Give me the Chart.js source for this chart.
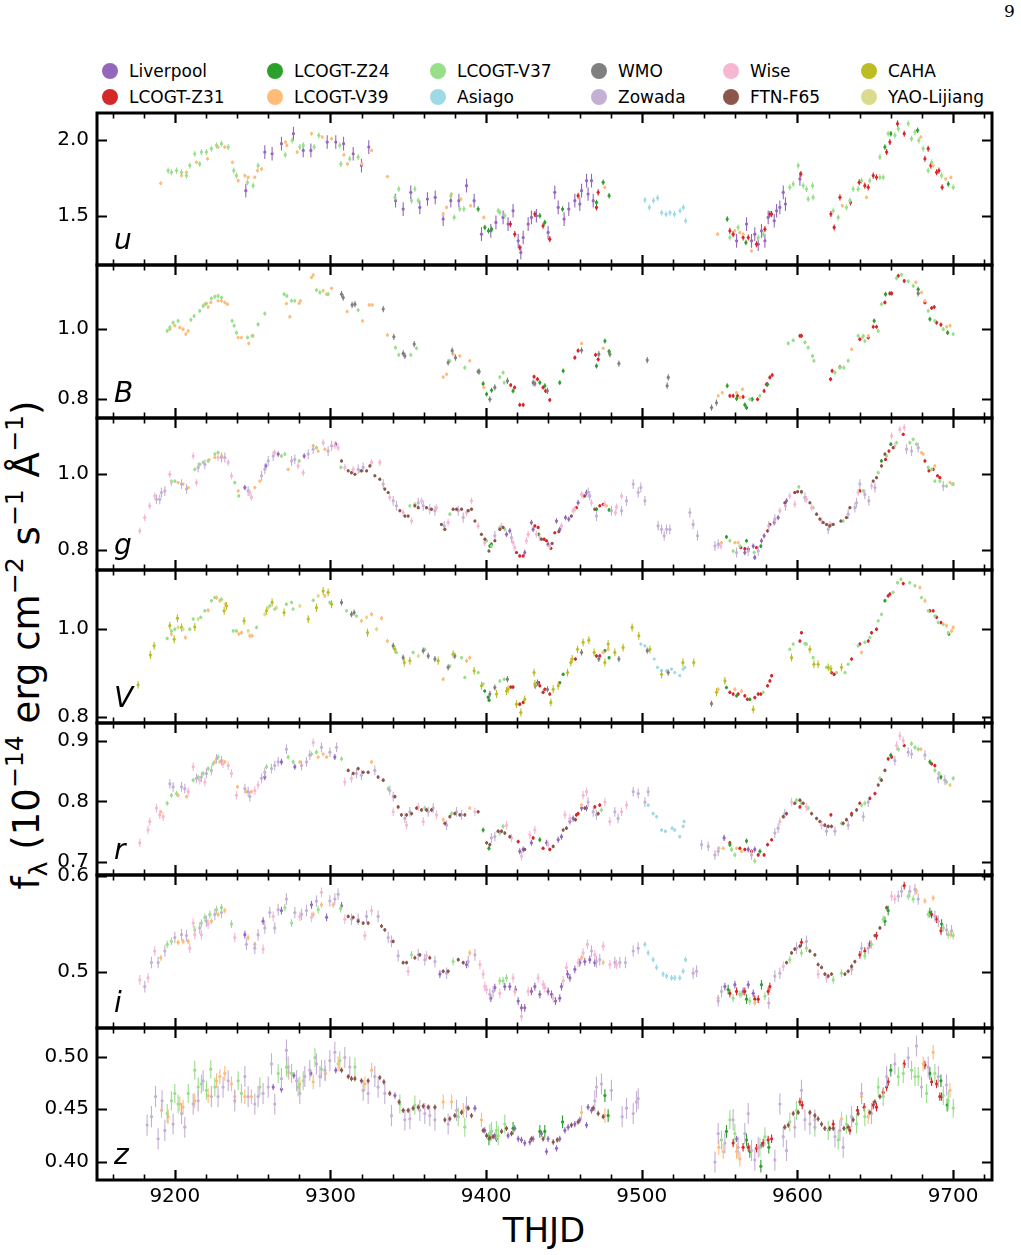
<!DOCTYPE html>
<html>
<head>
<meta charset="utf-8">
<script src="https://cdn.jsdelivr.net/npm/chart.js@4.4.0/dist/chart.umd.min.js"></script>
<style>
  body { margin: 0; background: #fff; width: 1021px; height: 1255px; position: relative; overflow: hidden; font-family: "DejaVu Sans", sans-serif; color: #000; }
  canvas.panel { position: absolute; left: 0; }
  .leg { position: absolute; font-size: 17px; line-height: 20px; white-space: nowrap; }
  .leg .dot { position: absolute; width: 16px; height: 16px; border-radius: 50%; left: -8px; top: 2px; }
  .leg .t { position: absolute; left: 19px; top: 0; }
  #ylab { position: absolute; left: 27px; top: 645px; transform: translate(-50%, -50%) rotate(-90deg); font-size: 37px; line-height: 42px; white-space: nowrap; }
  #ylab sup { font-size: 0.68em; vertical-align: 0.62em; line-height: 0; }
  #ylab sub { font-size: 0.68em; vertical-align: -0.3em; line-height: 0; }
  #xlab { position: absolute; left: 0; width: 1088px; text-align: center; top: 1210px; font-size: 34px; line-height: 40px; }
  #pageno { position: absolute; left: 1004px; top: 1px; font-family: "DejaVu Serif", serif; font-size: 17px; }
</style>
</head>
<body>
<div id="pageno">9</div>
<div id="ylab">f<sub>λ</sub> (10<sup>−14</sup> erg cm<sup>−2</sup> s<sup>−1</sup> Å<sup>−1</sup>)</div>
<div id="xlab">THJD</div>
<script>
// telescopes, in legend order (column by column)
const telescopes = ['Liverpool', 'LCOGT-Z31', 'LCOGT-Z24', 'LCOGT-V39', 'LCOGT-V37', 'Asiago',
                    'WMO', 'Zowada', 'Wise', 'FTN-F65', 'CAHA', 'YAO-Lijiang'];
const telColors = ['#9467bd', '#d62728', '#2ca02c', '#ffbb78', '#98df8a', '#9edae5',
                   '#7f7f7f', '#c5b0d5', '#f7b6d2', '#8c564b', '#bcbd22', '#dbdb8d'];

const xTicks = [9200, 9300, 9400, 9500, 9600, 9700];

// ---------------- u ----------------
const u_Liverpool = [[9245.6,1.665],[9257.8,1.919],[9262.5,1.908],[9268.5,1.974],[9276.2,2.040],[9282.5,1.930],[9287.4,1.930],[9297.9,1.985],[9303.4,1.985],[9308.4,1.974],[9314.6,1.908],[9319.9,1.830],[9324.6,1.952],[9341.8,1.599],[9346.7,1.544],[9351.6,1.654],[9357.4,1.555],[9362.3,1.610],[9367.3,1.621],[9372.4,1.478],[9377.3,1.599],[9382.5,1.599],[9387.4,1.698],[9392.3,1.599],[9397.0,1.379],[9403.0,1.401],[9406.3,1.456],[9410.9,1.489],[9414.1,1.445],[9417.3,1.533],[9420.6,1.335],[9422.3,1.258],[9423.8,1.357],[9427.0,1.445],[9429.1,1.489],[9432.3,1.500],[9439.8,1.390],[9444.1,1.654],[9446.3,1.555],[9450.1,1.478],[9453.1,1.544],[9457.0,1.599],[9460.2,1.577],[9461.3,1.665],[9464.5,1.731],[9465.5,1.643],[9467.7,1.731],[9468.8,1.599],[9560.9,1.335],[9567.3,1.445],[9570.5,1.335],[9572.6,1.379],[9574.8,1.313],[9576.9,1.401],[9579.1,1.335],[9581.2,1.489],[9585.1,1.467],[9586.6,1.533],[9588.7,1.555],[9590.9,1.654],[9592.3,1.577],[9601.6,1.742]];
const u_Z31 = [[9415.6,1.445],[9418.4,1.379],[9421.6,1.291],[9431.3,1.511],[9436.6,1.434],[9440.9,1.346],[9459.1,1.632],[9470.9,1.555],[9472.0,1.654],[9556.6,1.401],[9558.7,1.379],[9565.1,1.357],[9568.4,1.357],[9573.7,1.313],[9579.1,1.412],[9582.3,1.511],[9583.4,1.511],[9602.2,1.775],[9621.5,1.511],[9623.6,1.423],[9627.3,1.621],[9634.1,1.588],[9639.7,1.720],[9643.3,1.698],[9645.5,1.687],[9648.7,1.764],[9650.8,1.753],[9657.3,1.919],[9659.4,1.985],[9664.3,2.106],[9668.6,2.040],[9681.9,1.875],[9684.0,1.941],[9685.7,1.830],[9689.4,1.786],[9690.9,1.797],[9693.0,1.687]];
const u_Z24 = [[9394.9,1.544],[9399.2,1.423],[9401.5,1.401],[9403.5,1.412],[9434.5,1.500],[9437.7,1.456],[9449.1,1.544],[9470.9,1.588],[9475.2,1.720],[9479.0,1.632],[9554.9,1.478],[9566.9,1.324],[9656.2,1.952],[9660.0,2.040],[9677.2,2.062],[9696.9,1.709]];
const u_V39 = [[9191.0,1.714],[9204.3,1.764],[9207.5,1.786],[9213.9,1.852],[9221.0,1.875],[9227.8,1.952],[9232.1,1.952],[9237.0,1.852],[9240.7,1.731],[9245.0,1.764],[9247.1,1.753],[9251.4,1.753],[9253.1,1.797],[9255.7,1.808],[9271.1,1.985],[9272.0,1.963],[9278.6,1.919],[9287.8,2.040],[9294.7,2.018],[9300.7,2.007],[9308.6,1.901],[9310.9,1.841],[9320.2,1.841],[9326.4,1.930],[9336.6,1.758],[9372.4,1.511],[9374.6,1.555],[9377.8,1.643],[9383.8,1.610],[9390.0,1.566],[9398.5,1.489],[9476.3,1.687],[9548.7,1.379],[9559.8,1.401],[9563.0,1.390],[9565.1,1.379],[9570.5,1.269],[9628.8,1.566],[9644.4,1.621],[9679.3,2.018],[9687.2,1.830],[9695.2,1.742],[9698.6,1.753]];
const u_V37 = [[9195.7,1.797],[9197.8,1.786],[9201.1,1.797],[9204.3,1.786],[9207.5,1.764],[9209.6,1.830],[9212.8,1.908],[9216.0,1.841],[9217.1,1.919],[9220.3,1.919],[9223.5,1.941],[9226.8,1.963],[9230.0,1.974],[9234.3,1.952],[9237.9,1.797],[9239.6,1.764],[9246.7,1.720],[9250.3,1.698],[9253.5,1.830],[9270.9,1.901],[9275.4,1.996],[9280.3,1.952],[9282.5,1.963],[9289.5,1.952],[9292.5,2.029],[9306.0,1.963],[9306.7,1.841],[9312.4,1.875],[9317.8,1.886],[9341.4,1.621],[9343.9,1.676],[9352.1,1.599],[9354.2,1.676],[9356.4,1.599],[9377.3,1.632],[9379.5,1.489],[9383.1,1.544],[9385.7,1.544],[9407.7,1.533],[9408.8,1.522],[9412.0,1.500],[9556.6,1.357],[9561.9,1.423],[9574.8,1.357],[9578.0,1.379],[9595.1,1.687],[9597.3,1.709],[9600.5,1.830],[9603.7,1.698],[9605.8,1.676],[9606.9,1.610],[9609.7,1.698],[9610.1,1.621],[9623.0,1.533],[9626.2,1.489],[9631.5,1.555],[9633.7,1.599],[9635.8,1.676],[9639.0,1.676],[9641.2,1.731],[9646.5,1.731],[9653.0,1.753],[9655.1,1.753],[9653.0,1.886],[9658.3,2.040],[9662.6,2.029],[9664.8,2.073],[9671.2,2.106],[9673.3,2.007],[9675.5,2.051],[9678.0,1.996],[9680.8,1.941],[9684.0,1.797],[9686.2,1.852],[9692.6,1.764],[9700.1,1.687]];
const u_Asiago = [[9502.0,1.604],[9504.9,1.555],[9507.5,1.600],[9510.2,1.617],[9512.8,1.520],[9515.6,1.510],[9518.1,1.520],[9521.0,1.510],[9524.6,1.533],[9526.7,1.555],[9528.2,1.467]];

// ---------------- B ----------------
const B_V37 = [[9195.1,0.995],[9196.8,1.005],[9198.9,1.019],[9202.1,1.024],[9210.3,1.027],[9212.4,1.038],[9216.0,1.053],[9218.2,1.067],[9220.3,1.074],[9223.5,1.089],[9225.7,1.094],[9227.8,1.096],[9230.0,1.091],[9236.8,1.024],[9238.1,1.010],[9239.6,0.990],[9246.7,0.976],[9249.7,0.981],[9253.5,1.014],[9257.8,1.045],[9270.2,1.101],[9272.0,1.096],[9275.0,1.082],[9277.1,1.082],[9291.0,1.113],[9293.2,1.106],[9298.5,1.101],[9317.8,1.055],[9341.8,0.947],[9343.9,0.926],[9351.6,0.926],[9355.3,0.945],[9376.7,0.909],[9386.3,0.889],[9408.8,0.862],[9410.9,0.875],[9411.6,0.846],[9569.4,0.798],[9575.9,0.808],[9594.1,0.959],[9597.3,0.968],[9604.8,0.962],[9606.9,0.947],[9609.7,0.923],[9610.6,0.909],[9624.1,0.875],[9627.3,0.889],[9629.8,0.889],[9632.6,0.909],[9639.0,0.981],[9642.3,0.981],[9643.3,0.966],[9651.9,0.995],[9654.0,1.072],[9663.7,1.147],[9666.9,1.157],[9671.2,1.138],[9674.4,1.125],[9684.0,1.053],[9688.3,1.024],[9693.7,1.000],[9700.1,0.986]];
const B_V39 = [[9196.8,1.000],[9200.0,1.010],[9203.2,1.005],[9205.3,1.000],[9207.1,0.986],[9208.6,0.995],[9219.3,1.072],[9221.4,1.064],[9223.1,1.077],[9227.8,1.082],[9230.0,1.082],[9232.1,1.077],[9233.8,1.072],[9240.7,0.976],[9242.8,0.976],[9247.5,0.959],[9250.3,0.981],[9271.7,1.074],[9273.9,1.036],[9279.9,1.075],[9280.7,1.082],[9287.8,1.149],[9288.9,1.156],[9295.3,1.111],[9297.5,1.101],[9300.7,1.118],[9310.7,1.051],[9320.6,1.024],[9324.9,1.070],[9326.8,1.070],[9336.6,0.983],[9372.4,0.862],[9374.6,0.870],[9378.8,0.928],[9383.1,0.923],[9389.5,0.909],[9398.5,0.832],[9461.3,0.959],[9475.2,0.945],[9549.1,0.808],[9551.7,0.817],[9560.9,0.817],[9563.0,0.803],[9564.7,0.827],[9634.8,0.942],[9641.8,0.976],[9645.5,0.981],[9676.1,1.135],[9679.7,1.106],[9681.9,1.082],[9695.8,1.007],[9698.0,1.010]];
const B_WMO = [[9307.1,1.101],[9308.2,1.091],[9313.9,1.070],[9315.7,1.072],[9333.9,1.058],[9340.7,0.978],[9346.7,0.930],[9347.8,0.923],[9353.8,0.957],[9375.6,0.904],[9378.2,0.938],[9380.3,0.918],[9395.5,0.878],[9402.4,0.798],[9405.6,0.832],[9413.7,0.851],[9430.2,0.846],[9431.3,0.843],[9439.4,0.822],[9461.3,0.939],[9472.4,0.928],[9479.5,0.928],[9485.3,0.901],[9503.5,0.911],[9517.0,0.861],[9516.3,0.837],[9544.8,0.774],[9548.0,0.788],[9677.6,1.103]];
const B_Z24 = [[9394.9,0.878],[9398.1,0.843],[9400.3,0.813],[9403.5,0.824],[9417.3,0.822],[9434.5,0.846],[9437.7,0.837],[9447.3,0.846],[9449.5,0.880],[9470.9,0.894],[9476.3,0.966],[9479.0,0.936],[9554.9,0.837],[9560.9,0.800],[9566.2,0.782],[9567.3,0.774],[9570.9,0.798],[9580.8,0.841],[9649.3,1.024],[9656.6,1.101],[9677.6,1.115],[9685.1,1.029],[9696.5,0.990]];
const B_Z31 = [[9415.8,0.839],[9418.3,0.832],[9421.6,0.782],[9423.8,0.782],[9430.8,0.863],[9433.0,0.856],[9436.6,0.832],[9438.2,0.822],[9440.9,0.796],[9457.0,0.918],[9459.1,0.938],[9470.3,0.926],[9472.0,0.913],[9556.6,0.808],[9558.7,0.808],[9561.5,0.808],[9565.1,0.805],[9574.4,0.798],[9578.6,0.822],[9580.1,0.841],[9582.3,0.861],[9583.8,0.868],[9601.6,0.981],[9602.6,0.981],[9621.3,0.856],[9622.3,0.880],[9627.3,0.891],[9640.1,0.971],[9645.5,0.976],[9648.7,1.007],[9650.8,1.007],[9656.2,1.077],[9659.4,1.103],[9660.5,1.103],[9664.8,1.154],[9668.6,1.139],[9681.9,1.077],[9686.2,1.061],[9687.9,1.064],[9689.4,1.019],[9692.2,1.013]];

// ---------------- g ----------------
const g_Wise = [[9177.5,0.851],[9180.7,0.886],[9183.9,0.917],[9187.1,0.943],[9196.8,1.000],[9197.8,0.978],[9211.8,1.048],[9213.9,0.978],[9227.8,1.044],[9234.3,1.031],[9236.4,0.996],[9248.2,0.952],[9249.2,0.939],[9264.2,1.057],[9279.2,1.022],[9282.5,1.004],[9295.3,1.083],[9302.8,1.075],[9304.9,1.070],[9309.2,1.018],[9314.6,1.013],[9326.4,1.031],[9331.7,1.031],[9338.1,0.939],[9346.7,0.899],[9352.1,0.877],[9358.5,0.930],[9368.1,0.912],[9375.6,0.873],[9387.4,0.899],[9390.6,0.930],[9394.9,0.864],[9399.1,0.820],[9409.9,0.864],[9417.3,0.820],[9418.4,0.807],[9425.9,0.825],[9427.0,0.842],[9432.3,0.842],[9434.5,0.833],[9440.9,0.811],[9448.4,0.864],[9455.9,0.904],[9457.0,0.908],[9461.3,0.947],[9462.3,0.943],[9467.7,0.925],[9476.3,0.921],[9483.1,0.899],[9483.8,0.914],[9487.0,0.943],[9550.8,0.811],[9588.7,0.904],[9595.1,0.943],[9598.3,0.921],[9605.8,0.934],[9609.1,0.912],[9615.5,0.877],[9620.8,0.868],[9639.0,0.952],[9647.6,0.969],[9660.5,1.101],[9662.6,1.075],[9665.8,1.118],[9668.6,1.123]];
const g_Zowada = [[9188.2,0.934],[9190.3,0.934],[9191.4,0.952],[9193.6,0.956],[9204.3,0.974],[9207.5,0.961],[9215.0,1.018],[9219.3,1.026],[9230.0,1.044],[9232.1,1.044],[9247.1,0.956],[9255.7,0.996],[9257.8,1.013],[9260.0,1.035],[9263.2,1.048],[9275.0,1.035],[9277.1,1.039],[9285.7,1.053],[9288.9,1.066],[9298.5,1.061],[9300.7,1.075],[9317.8,1.013],[9321.0,1.018],[9333.9,0.974],[9340.3,0.930],[9342.4,0.917],[9356.4,0.925],[9359.6,0.917],[9363.8,0.908],[9367.1,0.904],[9373.1,0.864],[9382.1,0.904],[9385.3,0.886],[9405.6,0.838],[9416.3,0.833],[9465.5,0.952],[9466.6,0.943],[9470.9,0.890],[9480.5,0.904],[9487.0,0.904],[9490.2,0.930],[9494.5,0.974],[9497.7,0.952],[9499.4,0.965],[9502.0,0.930],[9510.5,0.864],[9512.7,0.855],[9514.4,0.838],[9515.9,0.855],[9518.0,0.855],[9530.9,0.899],[9533.0,0.868],[9535.8,0.838],[9547.0,0.811],[9549.1,0.816],[9560.9,0.794],[9568.4,0.798],[9574.8,0.798],[9581.6,0.864],[9585.5,0.882],[9592.3,0.917],[9604.8,0.939],[9619.8,0.855],[9632.6,0.895],[9636.9,0.912],[9638.0,0.925],[9640.1,0.974],[9643.3,0.947],[9645.9,0.930],[9649.8,0.965],[9670.1,1.066],[9673.3,1.061],[9677.6,1.070],[9693.7,0.969]];
const g_Liverpool = [[9245.0,0.965],[9258.5,1.022],[9266.4,1.053],[9283.1,1.048],[9303.4,1.079],[9413.1,0.842],[9415.2,0.851],[9424.8,0.794],[9429.1,0.873],[9430.2,0.855],[9439.8,0.816],[9445.2,0.877],[9447.3,0.855],[9451.0,0.886],[9453.1,0.882],[9459.1,0.925],[9464.5,0.952],[9566.2,0.794],[9571.6,0.811],[9572.6,0.781],[9576.9,0.825],[9578.6,0.838],[9585.1,0.873],[9587.6,0.886],[9593.0,0.930]];
const g_FTN = [[9307.1,1.035],[9311.4,1.009],[9313.5,1.004],[9315.7,1.000],[9319.9,1.009],[9323.2,1.009],[9325.3,1.022],[9328.5,0.996],[9331.7,0.987],[9334.9,0.961],[9337.1,0.952],[9344.6,0.904],[9347.8,0.890],[9349.9,0.890],[9354.2,0.917],[9356.4,0.912],[9361.7,0.912],[9364.9,0.908],[9371.3,0.868],[9373.5,0.855],[9378.8,0.908],[9381.0,0.908],[9384.2,0.908],[9388.5,0.904],[9390.6,0.908],[9392.8,0.877],[9397.0,0.842],[9399.2,0.829],[9401.8,0.798],[9405.6,0.825],[9408.8,0.855],[9410.9,0.860],[9435.6,0.829],[9442.4,0.818],[9446.7,0.849],[9454.8,0.890],[9463.4,0.943],[9469.8,0.908],[9591.9,0.925],[9600.1,0.954],[9602.6,0.954],[9608.0,0.925],[9612.3,0.895],[9614.4,0.882],[9616.6,0.873],[9618.7,0.868],[9620.8,0.864],[9623.0,0.868],[9627.9,0.877],[9631.5,0.886],[9633.7,0.912],[9648.7,0.982],[9650.8,0.991],[9654.0,1.022],[9656.2,1.053],[9661.5,1.070]];
const g_V37 = [[9197.8,0.982],[9200.0,0.982],[9212.8,1.013],[9216.0,1.026],[9218.2,1.031],[9221.4,1.035],[9225.7,1.053],[9227.8,1.057],[9238.5,0.978],[9241.1,0.943],[9268.5,1.048],[9270.7,1.053],[9279.9,1.035],[9291.0,1.070],[9306.7,1.018],[9318.9,1.009],[9351.0,0.917],[9354.2,0.921],[9376.7,0.895],[9400.3,0.825],[9403.5,0.811],[9408.8,0.860],[9412.0,0.855],[9556.6,0.825],[9558.7,0.798],[9563.0,0.811],[9572.2,0.794],[9600.9,0.967],[9602.6,0.952],[9610.1,0.912],[9621.9,0.868],[9629.4,0.877],[9642.3,0.956],[9651.9,1.004],[9657.3,1.048],[9663.7,1.083],[9672.2,1.083],[9674.4,1.092],[9676.5,1.079],[9684.0,1.018],[9686.2,1.013],[9688.3,0.982],[9691.5,0.982],[9695.8,0.969],[9700.1,0.974]];
const g_V39 = [[9202.1,0.978],[9205.3,0.974],[9208.6,0.965],[9222.0,1.038],[9225.7,1.044],[9230.0,1.048],[9240.7,0.956],[9251.4,0.965],[9254.6,0.982],[9272.8,1.013],[9288.9,1.075],[9292.1,1.061],[9296.4,1.066],[9477.3,0.917],[9549.5,0.816],[9551.2,0.820],[9559.8,0.820],[9561.9,0.820],[9679.7,1.057],[9680.8,1.053],[9688.3,1.022],[9698.0,0.978],[9699.5,0.974]];
const g_Z31 = [[9419.5,0.794],[9421.6,0.785],[9423.8,0.785],[9431.3,0.864],[9433.4,0.860],[9437.3,0.829],[9438.8,0.825],[9441.6,0.805],[9444.1,0.846],[9458.0,0.912],[9473.0,0.917],[9475.2,0.921],[9563.6,0.807],[9566.2,0.804],[9568.4,0.803],[9573.7,0.807],[9580.8,0.851],[9582.3,0.868],[9598.3,0.952],[9640.1,0.956],[9656.6,1.039],[9658.8,1.061],[9668.0,1.105],[9681.9,1.035],[9684.5,1.009],[9687.2,1.013],[9690.0,0.996],[9691.5,0.991]];
const g_Z24 = [[9402.4,0.811],[9403.4,0.816],[9433.8,0.842],[9470.9,0.908],[9479.0,0.906],[9554.4,0.835],[9567.3,0.825],[9576.5,0.811],[9654.0,1.035],[9660.0,1.079]];

// ---------------- V ----------------
const V_CAHA = [[9176.4,0.873],[9184.3,0.941],[9186.7,0.962],[9196.8,1.008],[9199.6,0.977],[9201.7,1.025],[9204.3,1.004],[9212.8,1.005],[9231.7,1.042],[9233.2,1.053],[9244.5,1.019],[9258.9,1.042],[9262.5,1.061],[9270.2,1.038],[9285.7,1.023],[9291.0,1.049],[9295.3,1.087],[9298.5,1.084],[9300.7,1.057],[9323.8,0.992],[9341.4,0.954],[9347.4,0.924],[9351.0,0.928],[9369.2,0.928],[9378.8,0.943],[9392.3,0.905],[9397.0,0.871],[9406.7,0.852],[9413.1,0.859],[9414.1,0.863],[9419.5,0.829],[9422.3,0.810],[9424.8,0.840],[9430.8,0.901],[9431.3,0.875],[9441.6,0.833],[9443.1,0.863],[9446.3,0.871],[9452.3,0.901],[9454.4,0.924],[9455.3,0.932],[9458.7,0.954],[9462.3,0.970],[9466.0,0.975],[9469.4,0.947],[9476.3,0.924],[9478.4,0.966],[9482.7,0.947],[9488.0,0.958],[9493.8,1.004],[9498.1,0.985],[9505.2,0.954],[9512.7,0.897],[9526.4,0.924],[9533.4,0.924],[9548.0,0.856],[9553.4,0.882],[9571.6,0.817],[9596.2,0.935],[9608.0,0.954],[9610.6,0.920],[9613.3,0.920],[9619.8,0.913],[9621.5,0.909],[9628.3,0.913]];
const V_YAO = [[9202.1,1.004],[9205.3,1.000],[9215.0,1.023],[9247.1,0.996],[9257.8,1.034],[9260.0,1.049],[9265.3,1.049],[9280.3,1.053],[9292.1,1.076],[9323.2,1.027],[9329.6,1.000],[9356.4,0.939]];
const V_V37 = [[9195.1,0.979],[9197.8,0.996],[9200.0,1.000],[9209.6,1.000],[9211.8,1.023],[9216.7,1.027],[9219.3,1.042],[9223.5,1.065],[9225.7,1.072],[9230.0,1.068],[9237.5,0.996],[9239.6,0.996],[9252.5,1.004],[9261.0,1.053],[9264.2,1.046],[9271.7,1.057],[9275.0,1.061],[9276.0,1.046],[9288.9,1.066],[9299.6,1.061],[9310.3,1.042],[9316.7,1.030],[9342.4,0.947],[9353.1,0.947],[9360.6,0.954],[9376.7,0.916],[9384.2,0.935],[9386.3,0.890],[9394.9,0.901],[9398.1,0.875],[9408.8,0.882],[9411.6,0.886],[9578.0,0.856],[9595.1,0.954],[9597.3,0.966],[9604.8,0.967],[9605.8,0.966],[9610.1,0.935],[9618.7,0.913],[9625.1,0.901],[9630.5,0.901],[9632.6,0.920],[9639.0,0.962],[9643.3,0.970],[9646.5,0.981],[9651.9,1.019],[9654.0,1.034],[9661.5,1.084],[9664.3,1.106],[9666.5,1.114],[9672.2,1.106],[9675.5,1.099],[9679.7,1.072],[9684.0,1.042],[9688.3,1.030],[9690.5,1.015],[9693.7,1.011],[9696.9,0.992]];
const V_V39 = [[9197.8,0.989],[9206.8,0.981],[9221.4,1.043],[9226.8,1.072],[9228.9,1.065],[9232.5,1.057],[9241.1,0.989],[9242.8,0.992],[9248.2,0.985],[9249.7,0.985],[9296.4,1.076],[9319.9,1.019],[9326.4,1.034],[9332.8,1.025],[9336.6,0.973],[9372.4,0.886],[9387.4,0.928],[9389.5,0.935],[9475.2,0.947],[9478.4,0.954],[9549.1,0.863],[9559.8,0.863],[9564.1,0.859],[9641.2,0.947],[9678.7,1.095],[9681.9,1.065],[9695.8,1.008],[9699.0,0.996],[9700.1,1.004]];
const V_WMO = [[9307.1,1.061],[9313.5,1.034],[9315.2,1.038],[9340.3,0.962],[9346.7,0.935],[9359.6,0.951],[9362.8,0.939],[9367.1,0.932],[9375.6,0.913],[9379.9,0.939],[9402.4,0.852],[9405.6,0.867],[9413.7,0.886],[9431.6,0.871],[9433.0,0.878],[9439.4,0.863],[9461.3,0.947],[9472.4,0.932],[9485.3,0.932],[9503.5,0.951],[9517.0,0.901],[9544.8,0.830]];
const V_Z24 = [[9401.9,0.838],[9399.1,0.859],[9401.3,0.845],[9447.3,0.878],[9449.5,0.897],[9476.3,0.951],[9479.0,0.935],[9554.4,0.867],[9560.9,0.848],[9569.4,0.840],[9656.2,1.065],[9697.3,0.989]];
const V_Z31 = [[9415.8,0.868],[9417.3,0.868],[9421.6,0.829],[9423.8,0.833],[9433.8,0.878],[9434.5,0.871],[9436.6,0.856],[9437.7,0.863],[9440.9,0.852],[9457.4,0.932],[9470.9,0.939],[9473.0,0.939],[9556.6,0.856],[9558.7,0.852],[9561.9,0.852],[9566.2,0.848],[9567.9,0.840],[9572.6,0.844],[9574.8,0.852],[9576.5,0.852],[9580.8,0.871],[9582.3,0.882],[9583.4,0.894],[9601.6,0.973],[9602.6,0.992],[9621.9,0.901],[9623.6,0.897],[9634.8,0.932],[9640.1,0.966],[9645.5,0.973],[9647.6,0.992],[9650.8,1.000],[9658.3,1.076],[9659.4,1.080],[9668.0,1.104],[9685.1,1.042],[9687.2,1.042],[9689.4,1.027],[9692.2,1.015]];
const V_Asiago = [[9499.4,0.966],[9502.0,0.962],[9504.1,0.951],[9508.0,0.932],[9510.1,0.913],[9512.7,0.906],[9515.9,0.905],[9519.1,0.909],[9521.2,0.901],[9524.4,0.894],[9526.6,0.909],[9527.7,0.913]];

// ---------------- r ----------------
const r_Wise = [[9177.5,0.732],[9182.8,0.753],[9183.9,0.767],[9188.2,0.789],[9190.3,0.778],[9192.5,0.775],[9208.6,0.816],[9211.8,0.857],[9216.0,0.835],[9219.3,0.832],[9231.0,0.862],[9234.3,0.859],[9236.4,0.846],[9239.6,0.810],[9251.4,0.818],[9253.5,0.827],[9288.9,0.897],[9309.2,0.832],[9313.5,0.838],[9340.3,0.783],[9348.9,0.761],[9356.4,0.791],[9359.6,0.767],[9368.1,0.778],[9392.8,0.783],[9413.1,0.761],[9416.3,0.740],[9422.7,0.710],[9428.1,0.745],[9431.3,0.753],[9439.8,0.729],[9450.6,0.778],[9453.8,0.772],[9462.3,0.810],[9464.5,0.816],[9476.3,0.799],[9479.5,0.767],[9487.0,0.783],[9490.2,0.794],[9588.7,0.767],[9596.2,0.799],[9605.8,0.791],[9615.5,0.761],[9663.7,0.892],[9665.8,0.908],[9668.0,0.900]];
const r_Zowada = [[9196.8,0.829],[9198.9,0.824],[9204.3,0.824],[9206.4,0.821],[9213.9,0.838],[9217.1,0.840],[9220.3,0.846],[9223.5,0.851],[9226.8,0.870],[9230.0,0.867],[9245.0,0.821],[9247.1,0.816],[9248.2,0.808],[9255.7,0.838],[9257.8,0.848],[9262.1,0.854],[9264.2,0.859],[9266.4,0.865],[9271.7,0.886],[9281.4,0.859],[9284.6,0.865],[9286.7,0.876],[9294.2,0.889],[9299.6,0.881],[9303.9,0.889],[9316.7,0.846],[9319.9,0.843],[9328.5,0.851],[9338.1,0.818],[9340.3,0.808],[9347.8,0.772],[9351.0,0.783],[9362.8,0.783],[9366.0,0.789],[9374.6,0.761],[9381.0,0.783],[9384.2,0.778],[9403.4,0.740],[9405.6,0.742],[9465.5,0.799],[9468.8,0.783],[9470.9,0.778],[9482.7,0.783],[9484.8,0.772],[9494.5,0.816],[9497.7,0.813],[9502.0,0.799],[9504.1,0.816],[9538.4,0.729],[9542.7,0.726],[9547.0,0.712],[9549.1,0.718],[9570.5,0.712],[9585.5,0.748],[9587.6,0.756],[9591.9,0.780],[9618.7,0.751],[9624.1,0.751],[9632.6,0.761],[9642.3,0.775],[9645.5,0.799],[9662.6,0.867],[9671.2,0.881],[9673.3,0.878],[9681.9,0.876],[9690.5,0.838],[9694.7,0.835]];
const r_Liverpool = [[9257.8,0.840],[9268.5,0.865],[9277.1,0.857],[9302.8,0.873],[9421.6,0.718],[9423.8,0.721],[9429.1,0.732],[9438.8,0.732],[9446.3,0.737],[9448.4,0.742],[9453.8,0.767],[9455.9,0.772],[9461.3,0.789],[9464.5,0.789],[9552.9,0.740],[9568.4,0.721],[9572.6,0.721]];
const r_FTN = [[9311.4,0.851],[9314.6,0.846],[9317.8,0.854],[9321.0,0.848],[9324.2,0.848],[9330.6,0.840],[9333.9,0.835],[9341.4,0.808],[9343.5,0.791],[9345.6,0.778],[9348.9,0.778],[9352.1,0.780],[9355.3,0.789],[9358.5,0.786],[9361.7,0.786],[9364.9,0.786],[9373.5,0.764],[9376.7,0.775],[9379.9,0.780],[9383.1,0.778],[9386.3,0.778],[9394.9,0.783],[9400.3,0.732],[9402.4,0.729],[9407.7,0.751],[9409.9,0.751],[9412.0,0.748],[9415.2,0.742],[9424.8,0.721],[9443.1,0.726],[9449.5,0.753],[9451.6,0.756],[9457.4,0.770],[9463.4,0.789],[9472.0,0.780],[9590.9,0.775],[9593.0,0.780],[9598.3,0.797],[9601.6,0.802],[9603.7,0.797],[9609.1,0.780],[9612.3,0.772],[9614.4,0.767],[9617.6,0.761],[9619.8,0.759],[9621.9,0.759],[9629.4,0.764],[9631.5,0.770],[9634.8,0.778],[9638.0,0.786],[9651.9,0.827],[9654.0,0.835],[9656.2,0.851]];
const r_V37 = [[9195.1,0.797],[9197.8,0.810],[9201.1,0.813],[9211.8,0.835],[9215.0,0.840],[9218.2,0.846],[9221.4,0.854],[9224.6,0.862],[9227.8,0.873],[9258.9,0.857],[9272.8,0.873],[9276.0,0.865],[9287.8,0.878],[9291.0,0.881],[9307.1,0.870],[9337.1,0.821],[9360.6,0.789],[9377.8,0.780],[9408.8,0.748],[9410.9,0.759],[9474.1,0.786],[9557.7,0.721],[9559.8,0.712],[9572.6,0.702],[9599.4,0.802],[9602.6,0.797],[9606.9,0.789],[9628.3,0.764],[9641.2,0.794],[9643.3,0.797],[9653.0,0.838],[9664.8,0.886],[9673.3,0.895],[9675.5,0.889],[9677.6,0.886],[9688.3,0.851],[9690.9,0.846],[9695.8,0.832],[9700.1,0.838]];
const r_V39 = [[9191.0,0.783],[9202.1,0.810],[9207.5,0.808],[9225.7,0.865],[9228.9,0.865],[9232.1,0.865],[9240.3,0.824],[9246.0,0.816],[9249.2,0.816],[9280.3,0.865],[9292.1,0.873],[9295.3,0.878],[9297.5,0.873],[9326.4,0.865],[9372.4,0.770],[9389.5,0.789],[9461.3,0.794],[9549.5,0.723],[9552.3,0.723],[9560.9,0.723],[9564.1,0.718],[9679.3,0.886],[9698.0,0.827]];
const r_Z31 = [[9420.6,0.734],[9430.2,0.740],[9436.6,0.723],[9440.9,0.721],[9458.0,0.778],[9459.1,0.780],[9469.8,0.791],[9473.0,0.794],[9556.6,0.732],[9563.0,0.723],[9566.2,0.721],[9570.5,0.718],[9574.8,0.712],[9578.6,0.712],[9580.8,0.729],[9583.4,0.737],[9601.6,0.791],[9621.5,0.778],[9634.8,0.780],[9640.1,0.797],[9646.5,0.805],[9649.8,0.813],[9658.3,0.870],[9660.5,0.873],[9668.6,0.892],[9686.2,0.862],[9688.3,0.859]];
const r_Z24 = [[9398.1,0.753],[9401.8,0.723],[9434.5,0.737],[9556.6,0.729],[9567.3,0.735],[9575.9,0.718],[9660.0,0.876],[9685.1,0.865],[9692.2,0.840]];
const r_Asiago = [[9504.1,0.794],[9507.3,0.780],[9509.5,0.775],[9512.7,0.753],[9515.2,0.751],[9519.5,0.756],[9521.2,0.753],[9524.4,0.742],[9526.6,0.759],[9527.2,0.767]];

// ---------------- i ----------------
const i_Wise = [[9177.5,0.492],[9182.8,0.494],[9187.1,0.522],[9209.6,0.525],[9211.8,0.551],[9212.8,0.539],[9217.1,0.539],[9221.4,0.550],[9238.5,0.536],[9256.7,0.524],[9263.2,0.558],[9280.3,0.558],[9287.8,0.557],[9294.2,0.583],[9309.2,0.555],[9322.1,0.538],[9326.4,0.564],[9349.9,0.501],[9361.7,0.517],[9396.0,0.508],[9398.1,0.498],[9400.3,0.482],[9399.1,0.485],[9408.8,0.478],[9417.3,0.494],[9418.4,0.480],[9422.7,0.454],[9427.0,0.480],[9433.4,0.494],[9436.6,0.487],[9437.7,0.484],[9443.1,0.473],[9449.5,0.491],[9451.6,0.505],[9459.1,0.510],[9462.3,0.520],[9465.1,0.529],[9469.8,0.518],[9475.2,0.527],[9479.5,0.508],[9483.8,0.508],[9590.9,0.506],[9613.3,0.498],[9618.7,0.494],[9660.5,0.579],[9662.6,0.576]];
const i_Zowada = [[9180.7,0.485],[9185.0,0.510],[9189.3,0.510],[9193.6,0.522],[9200.0,0.536],[9204.3,0.539],[9207.5,0.538],[9216.0,0.546],[9220.3,0.553],[9225.7,0.560],[9230.0,0.562],[9246.0,0.529],[9251.4,0.525],[9253.5,0.539],[9257.8,0.546],[9261.0,0.562],[9264.2,0.546],[9266.4,0.565],[9271.7,0.576],[9277.1,0.562],[9281.4,0.560],[9284.6,0.564],[9291.0,0.574],[9299.6,0.574],[9302.8,0.576],[9304.9,0.581],[9313.5,0.555],[9317.8,0.555],[9323.2,0.558],[9330.6,0.558],[9337.1,0.536],[9339.2,0.532],[9343.5,0.517],[9356.4,0.518],[9360.6,0.513],[9367.1,0.511],[9374.6,0.499],[9388.5,0.511],[9392.8,0.518],[9402.4,0.477],[9404.5,0.480],[9467.7,0.522],[9470.9,0.511],[9473.0,0.513],[9482.7,0.510],[9485.9,0.510],[9489.5,0.510],[9494.5,0.522],[9497.7,0.525],[9533.0,0.499],[9535.2,0.501],[9549.1,0.470],[9551.2,0.480],[9581.6,0.468],[9585.5,0.496],[9588.7,0.499],[9599.4,0.525],[9605.8,0.532],[9634.8,0.503],[9641.2,0.525],[9645.5,0.525],[9664.8,0.579],[9666.9,0.584],[9672.2,0.584],[9675.5,0.586],[9677.6,0.576],[9688.3,0.558],[9690.5,0.553],[9695.8,0.544],[9699.0,0.543]];
const i_Liverpool = [[9245.0,0.539],[9256.7,0.553],[9268.5,0.564],[9287.8,0.570],[9297.5,0.557],[9307.1,0.569],[9370.3,0.498],[9387.4,0.508],[9403.0,0.473],[9405.6,0.484],[9412.0,0.485],[9415.2,0.485],[9418.9,0.482],[9420.6,0.470],[9422.7,0.463],[9424.8,0.463],[9429.1,0.480],[9431.3,0.485],[9434.5,0.477],[9439.8,0.480],[9442.0,0.477],[9444.6,0.470],[9447.3,0.473],[9448.4,0.485],[9452.3,0.498],[9453.8,0.494],[9457.0,0.503],[9460.2,0.510],[9463.4,0.511],[9466.6,0.513],[9469.8,0.510],[9553.4,0.485],[9559.8,0.487],[9565.1,0.480],[9568.4,0.487],[9571.6,0.478]];
const i_FTN = [[9311.4,0.558],[9314.6,0.557],[9317.8,0.553],[9321.0,0.551],[9324.2,0.551],[9332.8,0.548],[9334.9,0.544],[9340.3,0.532],[9346.7,0.510],[9348.9,0.510],[9354.2,0.515],[9357.4,0.518],[9363.8,0.515],[9372.4,0.501],[9375.6,0.501],[9382.1,0.513],[9385.3,0.510],[9593.0,0.510],[9596.2,0.520],[9598.3,0.524],[9601.6,0.527],[9608.0,0.522],[9611.2,0.518],[9613.3,0.508],[9615.5,0.505],[9617.6,0.498],[9619.8,0.496],[9621.9,0.498],[9630.5,0.498],[9632.6,0.501],[9634.8,0.506],[9636.9,0.511],[9649.8,0.538],[9653.0,0.546],[9657.3,0.567]];
const i_V37 = [[9195.1,0.529],[9197.8,0.532],[9212.8,0.544],[9217.1,0.551],[9219.3,0.557],[9222.5,0.560],[9226.8,0.565],[9230.0,0.567],[9236.4,0.550],[9270.7,0.567],[9275.0,0.551],[9292.1,0.565],[9306.5,0.566],[9352.1,0.518],[9378.8,0.511],[9408.8,0.491],[9410.9,0.491],[9413.1,0.494],[9558.7,0.473],[9563.0,0.477],[9569.4,0.470],[9579.1,0.475],[9595.1,0.513],[9602.6,0.520],[9605.8,0.525],[9623.0,0.492],[9628.3,0.499],[9643.3,0.517],[9647.6,0.529],[9655.1,0.555],[9671.2,0.579],[9674.4,0.576],[9684.0,0.560],[9693.7,0.546],[9696.9,0.539],[9700.1,0.538]];
const i_V39 = [[9191.0,0.515],[9202.1,0.531],[9205.3,0.532],[9208.6,0.532],[9223.5,0.553],[9227.8,0.560],[9232.1,0.564],[9247.1,0.536],[9251.4,0.529],[9288.9,0.560],[9294.2,0.570],[9301.7,0.570],[9389.5,0.520],[9461.3,0.515],[9475.2,0.510],[9549.1,0.473],[9564.1,0.477],[9572.6,0.468],[9676.5,0.584],[9681.9,0.574],[9687.2,0.577],[9698.6,0.539]];
const i_Z31 = [[9556.6,0.478],[9560.9,0.480],[9566.2,0.480],[9572.6,0.472],[9574.8,0.472],[9581.2,0.480],[9582.3,0.485],[9602.6,0.531],[9640.1,0.518],[9643.3,0.522],[9646.5,0.529],[9650.8,0.538],[9668.6,0.590],[9686.2,0.560],[9689.4,0.555],[9692.2,0.543]];
const i_Z24 = [[9555.5,0.482],[9567.3,0.472],[9576.9,0.487],[9656.2,0.553],[9658.3,0.564],[9685.1,0.562],[9692.6,0.550]];
const i_Asiago = [[9502.0,0.529],[9504.1,0.520],[9507.3,0.513],[9509.5,0.505],[9513.7,0.498],[9515.9,0.496],[9519.1,0.494],[9521.2,0.494],[9524.4,0.494],[9526.6,0.501],[9528.1,0.513]];

// ---------------- z ----------------
const z_Zowada = [[9182.2,0.435],[9185.0,0.443],[9187.6,0.462],[9189.3,0.422],[9191.8,0.458],[9193.6,0.430],[9198.9,0.436],[9204.3,0.446],[9206.4,0.433],[9211.8,0.455],[9215.0,0.458],[9218.2,0.477],[9223.5,0.462],[9227.8,0.462],[9231.0,0.471],[9234.3,0.477],[9238.5,0.458],[9245.0,0.481],[9247.1,0.462],[9251.4,0.455],[9253.5,0.462],[9256.7,0.465],[9260.0,0.471],[9262.1,0.493],[9264.2,0.455],[9268.5,0.479],[9271.7,0.506],[9272.8,0.490],[9278.2,0.477],[9280.3,0.465],[9283.5,0.481],[9286.7,0.487],[9291.0,0.493],[9293.2,0.481],[9296.4,0.487],[9299.6,0.496],[9302.8,0.504],[9309.2,0.499],[9312.4,0.490],[9321.0,0.468],[9324.2,0.465],[9328.5,0.481],[9330.6,0.471],[9334.9,0.465],[9339.2,0.444],[9347.8,0.440],[9351.0,0.441],[9357.4,0.449],[9360.6,0.446],[9363.8,0.444],[9367.1,0.440],[9375.6,0.436],[9381.0,0.449],[9387.4,0.452],[9469.8,0.458],[9470.9,0.471],[9474.1,0.474],[9480.5,0.468],[9487.4,0.443],[9490.2,0.451],[9494.5,0.446],[9496.6,0.457],[9497.7,0.460],[9547.0,0.400],[9549.1,0.427],[9553.4,0.418],[9558.7,0.440],[9561.9,0.414],[9566.2,0.427],[9568.4,0.446],[9570.5,0.411],[9572.6,0.402],[9574.8,0.414],[9585.5,0.402],[9588.7,0.455],[9590.9,0.424],[9593.0,0.411],[9598.3,0.433],[9602.6,0.468],[9604.8,0.440],[9608.0,0.436],[9611.2,0.440],[9624.1,0.424],[9627.3,0.430],[9629.4,0.414],[9634.8,0.443],[9641.2,0.465],[9647.6,0.446],[9657.3,0.481],[9662.6,0.493],[9671.2,0.499],[9676.5,0.510],[9679.7,0.471],[9684.0,0.490],[9690.5,0.481],[9695.8,0.473]];
const z_Liverpool = [[9263.2,0.471],[9268.5,0.469],[9276.5,0.482],[9287.4,0.484],[9303.4,0.487],[9341.4,0.463],[9392.8,0.451],[9405.6,0.425],[9399.1,0.430],[9403.4,0.429],[9406.6,0.422],[9414.1,0.425],[9418.4,0.432],[9420.6,0.422],[9422.7,0.421],[9424.8,0.418],[9428.1,0.419],[9430.2,0.422],[9435.6,0.427],[9438.8,0.410],[9439.8,0.422],[9445.2,0.413],[9447.3,0.422],[9450.6,0.430],[9452.7,0.433],[9457.0,0.436],[9460.2,0.440],[9464.5,0.435],[9465.5,0.452],[9467.7,0.449],[9560.9,0.422],[9576.9,0.416]];
const z_FTN = [[9307.1,0.487],[9311.4,0.481],[9313.5,0.479],[9315.7,0.479],[9319.9,0.477],[9324.2,0.477],[9331.7,0.480],[9334.3,0.476],[9338.1,0.465],[9344.1,0.457],[9346.7,0.449],[9349.9,0.449],[9353.1,0.451],[9356.4,0.452],[9359.6,0.453],[9362.8,0.452],[9367.1,0.452],[9373.5,0.440],[9376.7,0.441],[9379.9,0.444],[9384.2,0.447],[9388.5,0.451],[9390.6,0.444],[9398.1,0.430],[9400.3,0.425],[9402.4,0.423],[9404.5,0.424],[9409.9,0.429],[9413.1,0.432],[9416.3,0.427],[9429.1,0.422],[9436.6,0.422],[9443.1,0.419],[9445.7,0.421],[9454.8,0.435],[9459.1,0.438],[9468.8,0.451],[9472.0,0.446],[9475.2,0.443],[9591.9,0.433],[9594.1,0.435],[9597.3,0.446],[9600.5,0.447],[9608.0,0.447],[9611.2,0.444],[9613.3,0.441],[9615.5,0.436],[9617.6,0.432],[9620.8,0.432],[9623.0,0.432],[9629.9,0.432],[9632.6,0.433],[9635.8,0.440],[9639.0,0.446],[9646.5,0.447],[9649.8,0.457],[9653.0,0.462]];
const z_V37 = [[9195.1,0.446],[9197.8,0.458],[9200.0,0.465],[9202.1,0.455],[9208.6,0.465],[9212.8,0.487],[9215.0,0.471],[9217.1,0.474],[9220.3,0.468],[9223.1,0.488],[9225.7,0.471],[9240.7,0.477],[9242.8,0.465],[9254.6,0.471],[9266.4,0.484],[9271.7,0.490],[9275.0,0.484],[9279.2,0.471],[9282.5,0.477],[9290.0,0.499],[9294.2,0.488],[9306.0,0.496],[9315.7,0.490],[9344.6,0.455],[9354.2,0.454],[9382.1,0.443],[9386.3,0.433],[9403.5,0.429],[9407.8,0.425],[9402.4,0.427],[9406.6,0.430],[9412.0,0.436],[9551.2,0.421],[9556.6,0.440],[9559.8,0.427],[9575.9,0.414],[9579.1,0.424],[9595.1,0.438],[9599.4,0.449],[9611.2,0.433],[9619.8,0.430],[9626.2,0.421],[9631.5,0.436],[9638.0,0.436],[9643.3,0.443],[9651.9,0.471],[9655.1,0.462],[9664.8,0.481],[9668.0,0.484],[9673.3,0.487],[9675.5,0.481],[9677.6,0.481],[9683.0,0.465],[9688.3,0.484],[9693.7,0.463],[9696.9,0.458],[9700.1,0.451]];
const z_V39 = [[9191.4,0.449],[9195.7,0.443],[9203.2,0.455],[9205.3,0.452],[9212.8,0.458],[9221.4,0.463],[9226.8,0.477],[9228.9,0.481],[9232.1,0.484],[9236.4,0.474],[9238.5,0.462],[9245.0,0.462],[9249.2,0.462],[9273.2,0.485],[9280.3,0.474],[9288.9,0.476],[9296.8,0.484],[9304.9,0.493],[9322.1,0.474],[9326.4,0.487],[9372.4,0.457],[9377.8,0.457],[9385.3,0.449],[9397.0,0.440],[9461.3,0.447],[9476.3,0.444],[9549.5,0.414],[9552.3,0.410],[9560.9,0.410],[9563.0,0.403],[9628.3,0.441],[9641.2,0.462],[9645.5,0.443],[9680.8,0.493],[9687.2,0.504],[9698.0,0.468]];
const z_Z31 = [[9558.7,0.418],[9565.1,0.414],[9568.4,0.414],[9573.7,0.413],[9578.0,0.418],[9581.2,0.421],[9583.4,0.422],[9601.6,0.457],[9603.1,0.454],[9623.0,0.436],[9633.7,0.430],[9638.6,0.449],[9642.9,0.452],[9648.7,0.454],[9650.8,0.452],[9655.1,0.466],[9657.3,0.471],[9658.3,0.476],[9668.6,0.493],[9681.9,0.492],[9686.2,0.476],[9689.4,0.474],[9691.5,0.462],[9692.6,0.462]];
const z_Z24 = [[9401.8,0.422],[9417.3,0.432],[9434.5,0.429],[9437.7,0.429],[9449.1,0.438],[9476.3,0.463],[9478.4,0.444],[9554.4,0.429],[9567.3,0.421],[9569.4,0.410],[9576.5,0.396],[9581.6,0.414],[9660.0,0.487],[9685.1,0.484],[9692.2,0.477],[9696.2,0.454]];

// per band: [telescope, points, error size]
const uSeries = [['Liverpool', u_Liverpool, 0.045], ['LCOGT-Z31', u_Z31, 0.02], ['LCOGT-Z24', u_Z24, 0.018],
                 ['LCOGT-V39', u_V39, 0.012], ['LCOGT-V37', u_V37, 0.02], ['Asiago', u_Asiago, 0.02]];
const BSeries = [['LCOGT-Z31', B_Z31, 0.006], ['LCOGT-Z24', B_Z24, 0.007], ['LCOGT-V39', B_V39, 0.005],
                 ['LCOGT-V37', B_V37, 0.006], ['WMO', B_WMO, 0.009]];
const gSeries = [['Liverpool', g_Liverpool, 0.007], ['LCOGT-Z31', g_Z31, 0.004], ['LCOGT-Z24', g_Z24, 0.005],
                 ['LCOGT-V39', g_V39, 0.004], ['LCOGT-V37', g_V37, 0.005], ['Zowada', g_Zowada, 0.013],
                 ['Wise', g_Wise, 0.009], ['FTN-F65', g_FTN, 0.004]];
const VSeries = [['LCOGT-Z31', V_Z31, 0.004], ['LCOGT-Z24', V_Z24, 0.004], ['LCOGT-V39', V_V39, 0.005],
                 ['LCOGT-V37', V_V37, 0.004], ['Asiago', V_Asiago, 0.003], ['WMO', V_WMO, 0.007],
                 ['CAHA', V_CAHA, 0.009], ['YAO-Lijiang', V_YAO, 0.005]];
const rSeries = [['Liverpool', r_Liverpool, 0.005], ['LCOGT-Z31', r_Z31, 0.003], ['LCOGT-Z24', r_Z24, 0.004],
                 ['LCOGT-V39', r_V39, 0.003], ['LCOGT-V37', r_V37, 0.004], ['Asiago', r_Asiago, 0.003],
                 ['Zowada', r_Zowada, 0.008], ['Wise', r_Wise, 0.007], ['FTN-F65', r_FTN, 0.003]];
const iSeries = [['Liverpool', i_Liverpool, 0.004], ['LCOGT-Z31', i_Z31, 0.004], ['LCOGT-Z24', i_Z24, 0.005],
                 ['LCOGT-V39', i_V39, 0.003], ['LCOGT-V37', i_V37, 0.004], ['Asiago', i_Asiago, 0.003],
                 ['Zowada', i_Zowada, 0.006], ['Wise', i_Wise, 0.005], ['FTN-F65', i_FTN, 0.002]];
const zSeries = [['Liverpool', z_Liverpool, 0.003], ['LCOGT-Z31', z_Z31, 0.004], ['LCOGT-Z24', z_Z24, 0.006],
                 ['LCOGT-V39', z_V39, 0.007], ['LCOGT-V37', z_V37, 0.009], ['Zowada', z_Zowada, 0.01],
                 ['FTN-F65', z_FTN, 0.0025]];

const bandNames = ['u', 'B', 'g', 'V', 'r', 'i', 'z'];
const bandSeries = [uSeries, BSeries, gSeries, VSeries, rSeries, iSeries, zSeries];
const yMins = [1.176, 0.744, 0.748, 0.786, 0.679, 0.442, 0.383];
const yMaxs = [2.176, 1.185, 1.148, 1.135, 0.929, 0.601, 0.527];
const yTicks = [[1.5, 2.0], [0.8, 1.0], [0.8, 1.0], [0.8, 1.0], [0.7, 0.8, 0.9], [0.5, 0.6], [0.40, 0.45, 0.50]];
const yDecimals = [1, 1, 1, 1, 1, 1, 2];

// page geometry
const panelTops = [113, 265, 418, 570, 723, 875, 1028];
const panelBottom = 1180;
const plotLeft = 97, plotRight = 992;
const PAD = 24, XAXIS_H = 40;

// legend
telescopes.forEach((name, i) => {
    const colX = [110, 275, 438, 599, 731, 869][Math.floor(i / 2)];
    const rowY = [70.5, 97][i % 2];
    const d = document.createElement('div');
    d.className = 'leg';
    d.style.left = colX + 'px';
    d.style.top = (rowY - 10) + 'px';
    d.innerHTML = '<span class="dot" style="background:' + telColors[i] + '"></span><span class="t">' + name + '</span>';
    document.body.appendChild(d);
});

const panelPlugin = {
    id: 'panelDecor',
    beforeDatasetDraw(chart, args) {
        // vertical error bars under each dataset's points
        const ds = chart.data.datasets[args.index];
        const a = chart.chartArea, ctx = chart.ctx, ys = chart.scales.y;
        ctx.save();
        ctx.beginPath();
        ctx.rect(a.left, a.top, a.right - a.left, a.bottom - a.top);
        ctx.clip();
        ctx.strokeStyle = ds.backgroundColor;
        ctx.lineWidth = 1.1;
        ctx.beginPath();
        ds.data.forEach((p, k) => {
            const px = args.meta.data[k].x;
            ctx.moveTo(px, ys.getPixelForValue(p.y - ds.err));
            ctx.lineTo(px, ys.getPixelForValue(p.y + ds.err));
        });
        ctx.stroke();
        ctx.restore();
    },
    afterDraw(chart, args, opts) {
        const a = chart.chartArea, ctx = chart.ctx;
        const xs = chart.scales.x, ys = chart.scales.y;
        ctx.save();
        ctx.strokeStyle = '#000';
        // x ticks, inward, top and bottom
        for (let v = 9160; v <= 9720; v += 20) {
            const px = Math.round(xs.getPixelForValue(v)) + 0.5;
            const major = v % 100 === 0;
            const len = major ? 10 : 5.5;
            ctx.lineWidth = major ? 2.2 : 1.6;
            ctx.beginPath();
            ctx.moveTo(px, a.bottom); ctx.lineTo(px, a.bottom - len);
            ctx.moveTo(px, a.top); ctx.lineTo(px, a.top + len);
            ctx.stroke();
        }
        // y ticks, inward, left and right
        ctx.lineWidth = 2.2;
        opts.ticks.forEach(v => {
            const py = Math.round(ys.getPixelForValue(v)) + 0.5;
            ctx.beginPath();
            ctx.moveTo(a.left, py); ctx.lineTo(a.left + 10, py);
            ctx.moveTo(a.right, py); ctx.lineTo(a.right - 10, py);
            ctx.stroke();
        });
        // frame
        ctx.lineWidth = 3;
        ctx.strokeRect(a.left, a.top, a.right - a.left, a.bottom - a.top);
        // band letter
        ctx.fillStyle = '#000';
        ctx.font = 'italic 28px "DejaVu Sans"';
        ctx.textBaseline = 'alphabetic';
        ctx.textAlign = 'left';
        ctx.fillText(opts.band, a.left + 17, a.bottom - 16);
        ctx.restore();
    }
};

bandNames.forEach((band, b) => {
    const top = panelTops[b];
    const bottom = b < 6 ? panelTops[b + 1] : panelBottom;
    const isLast = b === 6;
    const canvas = document.createElement('canvas');
    canvas.className = 'panel';
    canvas.width = 1021;
    canvas.height = (bottom - top) + 2 * PAD + (isLast ? XAXIS_H : 0);
    canvas.style.top = (top - PAD) + 'px';
    document.body.appendChild(canvas);

    const datasets = [];
    telescopes.forEach((tel, ti) => {
        const s = bandSeries[b].find(row => row[0] === tel);
        if (!s) return;
        datasets.push({
            label: tel,
            data: s[1].map(p => ({ x: p[0], y: p[1] })),
            err: s[2],
            backgroundColor: telColors[ti],
            pointRadius: 1.6,
            pointBorderWidth: 0,
            pointHoverRadius: 1.6,
            order: telescopes.length - ti
        });
    });

    new Chart(canvas, {
        type: 'scatter',
        data: { datasets },
        options: {
            responsive: false,
            animation: false,
            events: [],
            layout: { padding: { left: 0, right: 1021 - plotRight, top: PAD, bottom: PAD } },
            plugins: {
                legend: { display: false },
                tooltip: { enabled: false },
                panelDecor: { band, ticks: yTicks[b] }
            },
            scales: {
                x: {
                    type: 'linear',
                    min: 9150, max: 9725,
                    display: isLast,
                    afterBuildTicks: s => { s.ticks = xTicks.map(v => ({ value: v })); },
                    afterFit: s => { s.height = isLast ? XAXIS_H : 0; },
                    ticks: {
                        callback: v => String(v),
                        font: { family: 'DejaVu Sans', size: 20 },
                        color: '#000', padding: 5, maxRotation: 0, autoSkip: false
                    },
                    grid: { display: false, drawTicks: false },
                    border: { display: false }
                },
                y: {
                    type: 'linear',
                    min: yMins[b], max: yMaxs[b],
                    afterBuildTicks: s => { s.ticks = yTicks[b].map(v => ({ value: v })); },
                    afterFit: s => { s.width = plotLeft; },
                    ticks: {
                        callback: v => v.toFixed(yDecimals[b]),
                        font: { family: 'DejaVu Sans', size: 20 },
                        color: '#000', padding: 8
                    },
                    grid: { display: false, drawTicks: false },
                    border: { display: false }
                }
            }
        },
        plugins: [panelPlugin]
    });
});
</script>
</body>
</html>
